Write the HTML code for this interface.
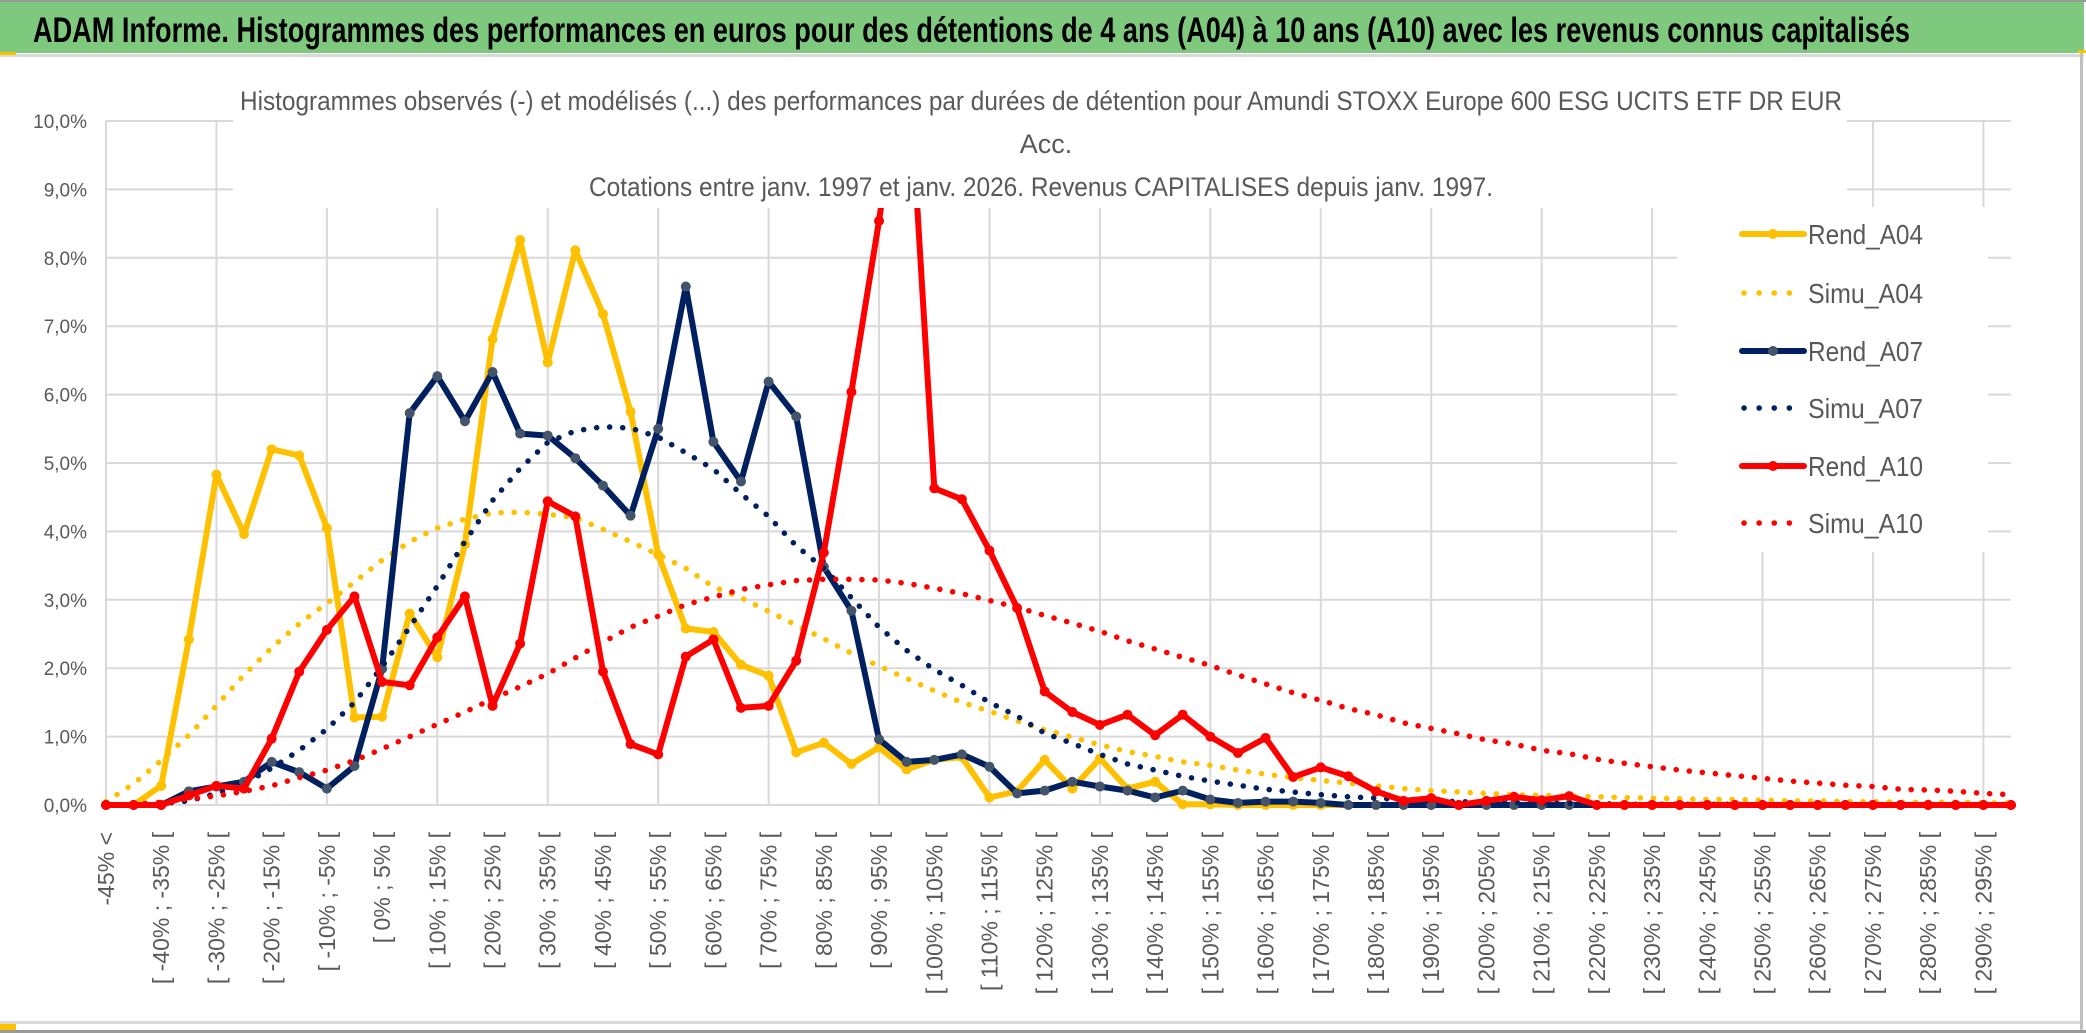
<!DOCTYPE html>
<html><head><meta charset="utf-8"><style>
html,body{margin:0;padding:0;background:#fff;}
svg{display:block;}
</style></head><body>
<svg id="chart" xmlns="http://www.w3.org/2000/svg" width="2086" height="1033" viewBox="0 0 2086 1033">
  <defs><clipPath id="plotclip"><rect x="90" y="100" width="1935" height="720"/></clipPath></defs>
  <rect x="0" y="0" width="2086" height="1033" fill="#fff"/>
  <rect x="0" y="0" width="2086" height="2" fill="#9a9a9a"/>
  <rect x="0" y="2" width="2084" height="51" fill="#7fc97f"/>
  <text x="33" y="42" font-family="Liberation Sans, sans-serif" font-weight="bold" font-size="35" fill="#000" textLength="1877" lengthAdjust="spacingAndGlyphs">ADAM Informe. Histogrammes des performances en euros pour des détentions de 4 ans (A04) à 10 ans (A10) avec les revenus connus capitalisés</text>
  <rect x="0" y="54" width="2084" height="3" fill="#d9d9d9"/>
  <rect x="0" y="52" width="16" height="3" fill="#ffc000"/>
  <rect x="2080" y="50" width="3" height="983" fill="#bfbfbf"/>
  <rect x="2078" y="50" width="8" height="3" fill="#ffc000"/>
  <rect x="0" y="1021" width="2080" height="3" fill="#d9d9d9"/>
  <rect x="0" y="1024" width="16" height="6" fill="#ffc000"/>
  <rect x="0" y="1030" width="2086" height="3" fill="#9a9a9a"/>
  <g id="grid"></g>
  <g id="series" clip-path="url(#plotclip)"></g>
  <rect x="233" y="58" width="1614" height="150" fill="#fff"/>
  <g font-family="Liberation Sans, sans-serif" font-size="27" fill="#595959" text-anchor="middle">
    <text x="1041" y="110" textLength="1602" lengthAdjust="spacingAndGlyphs">Histogrammes observés (-) et modélisés (...) des performances  par durées de détention pour Amundi STOXX Europe 600 ESG UCITS ETF DR EUR</text>
    <text x="1046" y="153">Acc.</text>
    <text x="1041" y="196" textLength="904" lengthAdjust="spacingAndGlyphs">Cotations entre janv. 1997 et janv. 2026. Revenus CAPITALISES depuis janv. 1997.</text>
  </g>
  <rect x="1677" y="207" width="311" height="345" fill="#fff"/>
  <g id="legend"></g>
  <g id="yticks"></g>
  <g id="xticks"></g>
</svg>
<script>
const categories = [];
categories.push("-45% <");
for (let k = -45; k <= 295; k += 5) {
  if (categories.length >= 70) break;
  categories.push("[ " + k + "% ; " + (k + 5) + "% [");
}
const yTicks = [0,1,2,3,4,5,6,7,8,9,10];
const yTickLabels = ["0,0%","1,0%","2,0%","3,0%","4,0%","5,0%","6,0%","7,0%","8,0%","9,0%","10,0%"];
const seriesNames = ["Rend_A04","Simu_A04","Rend_A07","Simu_A07","Rend_A10","Simu_A10"];
const rendA04 = [0,0,0.28,2.42,4.83,3.96,5.2,5.11,4.05,1.28,
 1.29,2.8,2.16,3.81,6.81,8.26,6.47,8.11,7.18,5.75,
 3.66,2.58,2.53,2.05,1.89,0.77,0.91,0.6,0.84,0.52,
 0.66,0.7,0.11,0.2,0.66,0.24,0.68,0.24,0.34,0.01,
 0.01,0,0,0,0,0,0,0,0,0,
 0,0,0,0,0,0,0,0,0,0,
 0,0,0,0,0,0,0,0,0,0];
const simuA04 = [0.05,0.31,0.65,1.02,1.45,1.9,2.3,2.65,2.95,3.26,
 3.58,3.85,4.05,4.18,4.27,4.28,4.25,4.2,4.03,3.85,
 3.66,3.46,3.19,3.03,2.83,2.63,2.43,2.22,2.03,1.85,
 1.67,1.5,1.37,1.23,1.1,0.99,0.88,0.78,0.71,0.63,
 0.58,0.51,0.45,0.4,0.36,0.32,0.28,0.24,0.21,0.19,
 0.17,0.15,0.14,0.13,0.12,0.11,0.1,0.09,0.08,0.08,
 0.07,0.06,0.06,0.05,0.05,0.04,0.04,0.04,0.03,0.03];
const rendA07 = [0,0,0,0.2,0.27,0.34,0.63,0.48,0.24,0.57,
 1.99,5.73,6.27,5.61,6.33,5.43,5.4,5.07,4.67,4.23,
 5.5,7.58,5.31,4.73,6.19,5.68,3.48,2.84,0.96,0.63,
 0.66,0.74,0.56,0.17,0.21,0.34,0.27,0.21,0.11,0.21,
 0.08,0.03,0.05,0.05,0.03,0,0,0,0,0,
 0,0,0,0,0,0,0,0,0,0,
 0,0,0,0,0,0,0,0,0,0];
const simuA07 = [0,0,0.02,0.06,0.17,0.31,0.54,0.8,1.11,1.5,
 2.02,2.6,3.2,3.85,4.45,4.92,5.3,5.47,5.53,5.51,
 5.38,5.15,4.91,4.55,4.22,3.79,3.46,3.03,2.6,2.26,
 1.98,1.75,1.5,1.3,1.05,0.9,0.74,0.6,0.51,0.42,
 0.35,0.29,0.23,0.19,0.15,0.12,0.1,0.08,0.06,0.05,
 0.04,0.03,0.03,0.02,0.02,0.01,0.01,0.01,0.01,0.01,
 0,0,0,0,0,0,0,0,0,0];
const rendA10 = [0,0,0,0.14,0.28,0.24,0.97,1.95,2.56,3.05,
 1.8,1.75,2.45,3.05,1.45,2.36,4.44,4.22,1.95,0.89,
 0.74,2.17,2.42,1.42,1.45,2.11,3.69,6.04,8.54,11.3,
 4.63,4.47,3.72,2.88,1.66,1.36,1.17,1.32,1.02,1.32,
 1.0,0.76,0.98,0.41,0.55,0.42,0.2,0.06,0.1,0,
 0.06,0.12,0.07,0.13,0,0,0,0,0,0,
 0,0,0,0,0,0,0,0,0,0];
const simuA10 = [0,0.01,0.04,0.09,0.13,0.2,0.28,0.4,0.51,0.65,
 0.82,1.0,1.18,1.36,1.55,1.73,1.92,2.15,2.38,2.6,
 2.76,2.93,3.04,3.15,3.22,3.28,3.3,3.3,3.29,3.24,
 3.17,3.09,2.99,2.89,2.77,2.66,2.54,2.4,2.28,2.16,
 2.04,1.9,1.77,1.64,1.53,1.41,1.32,1.2,1.12,1.04,
 0.95,0.89,0.8,0.75,0.67,0.61,0.56,0.51,0.47,0.43,
 0.39,0.35,0.32,0.29,0.27,0.23,0.22,0.2,0.17,0.15];

const NS = "http://www.w3.org/2000/svg";
const X0 = 106, X1 = 2011, Y0 = 805, Y10 = 121;
function xPos(i){ return X0 + i * (X1 - X0) / (categories.length - 1); }
function yPos(v){ return Y0 - v * (Y0 - Y10) / 10; }
function mk(tag, attrs, parent){
  const e = document.createElementNS(NS, tag);
  for (const k in attrs) e.setAttribute(k, attrs[k]);
  parent.appendChild(e);
  return e;
}

const grid = document.getElementById("grid");
yTicks.forEach(function(t){
  const l = mk("line", {x1:X0, x2:X1, y1:yPos(t), y2:yPos(t), stroke:"#d9d9d9", "stroke-width":2}, grid);
  
  
});
for (let i = 0; i < categories.length; i += 4) {
  const l = mk("line", {x1:xPos(i), x2:xPos(i), y1:Y10, y2:Y0, stroke:"#d9d9d9", "stroke-width":2}, grid);
  
  
}

const sg = document.getElementById("series");
const defs = [
  {name:"rend-a04", data:rendA04, color:"#ffc000", marker:"#ffc000", dotted:false},
  {name:"simu-a04", data:simuA04, color:"#ffc000", dotted:true},
  {name:"rend-a07", data:rendA07, color:"#002060", marker:"#44546a", dotted:false},
  {name:"simu-a07", data:simuA07, color:"#002060", dotted:true},
  {name:"rend-a10", data:rendA10, color:"#ff0000", marker:"#ff0000", dotted:false},
  {name:"simu-a10", data:simuA10, color:"#ff0000", dotted:true}
];
defs.forEach(function(s){
  const g = mk("g", {}, sg);
  
  
  const pts = s.data.map(function(v, i){ return xPos(i).toFixed(1) + "," + yPos(v).toFixed(1); }).join(" ");
  const attrs = {points:pts, fill:"none", stroke:s.color, "stroke-linejoin":"round"};
  if (s.dotted) { attrs["stroke-width"] = 5.5; attrs["stroke-dasharray"] = "0.1 13"; attrs["stroke-linecap"] = "round"; }
  else { attrs["stroke-width"] = 6; }
  const pl = mk("polyline", attrs, g);
  
  
  if (!s.dotted) {
    s.data.forEach(function(v, i){
      const c = mk("circle", {cx:xPos(i), cy:yPos(v), r:5, fill:s.marker}, g);
      
      
    });
  }
});

const lg = document.getElementById("legend");
const legY = [234, 293, 351, 408, 466, 523];
defs.forEach(function(s, k){
  const g = mk("g", {}, lg);
  
  
  const y = legY[k];
  if (s.dotted) {
    mk("line", {x1:1744, x2:1800, y1:y, y2:y, stroke:s.color, "stroke-width":5.5, "stroke-dasharray":"0.1 15", "stroke-linecap":"round"}, g);
  } else {
    mk("line", {x1:1742, x2:1804, y1:y, y2:y, stroke:s.color, "stroke-width":6, "stroke-linecap":"round"}, g);
    mk("circle", {cx:1773, cy:y, r:5, fill:s.marker}, g);
  }
  const t = mk("text", {x:1808, y:y + 10, "font-family":"Liberation Sans, sans-serif", "font-size":28, fill:"#595959", textLength:115, lengthAdjust:"spacingAndGlyphs"}, g);
  t.textContent = seriesNames[k];
});

const yt = document.getElementById("yticks");
yTicks.forEach(function(t, k){
  const e = mk("text", {x:87, y:yPos(t) + 7, "text-anchor":"end", "font-family":"Liberation Sans, sans-serif", "font-size":19, fill:"#595959"}, yt);
  
  
  e.textContent = yTickLabels[k];
});

const xt = document.getElementById("xticks");
categories.forEach(function(c, i){
  if (i !== 0 && i % 2 !== 0) return;
  const x = xPos(i) + 8, y = 832;
  const e = mk("text", {x:x, y:y, "text-anchor":"end", transform:"rotate(-90 " + x + " " + y + ")", "font-family":"Liberation Sans, sans-serif", "font-size":23, fill:"#595959"}, xt);
  
  
  e.textContent = c;
});
</script>
</body></html>
